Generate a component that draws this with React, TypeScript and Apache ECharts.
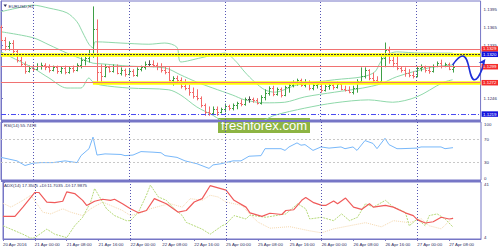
import React, { useEffect, useRef } from 'react';
import * as echarts from 'echarts';

// ---------- data ----------
// hourly bars, index 0 = 20 Apr 2016 16:00
const opens = [
  1.1366, 1.1344, 1.1334, 1.1339, 1.1326, 1.1310, 1.1304, 1.1292, 1.1297, 1.1295,
  1.1300, 1.1302, 1.1299, 1.1294, 1.1299, 1.1292, 1.1297, 1.1290, 1.1297, 1.1294,
  1.1302, 1.1310, 1.1314, 1.1321, 1.1363, 1.1290, 1.1283, 1.1299, 1.1292, 1.1300,
  1.1288, 1.1294, 1.1287, 1.1292, 1.1285, 1.1295, 1.1299, 1.1304, 1.1304, 1.1302,
  1.1300, 1.1294, 1.1290, 1.1277, 1.1280, 1.1277, 1.1266, 1.1263, 1.1256, 1.1250,
  1.1246, 1.1234, 1.1223, 1.1221, 1.1228, 1.1223, 1.1228, 1.1233, 1.1229, 1.1234,
  1.1238, 1.1236, 1.1245, 1.1245, 1.1243, 1.1238, 1.1248, 1.1255, 1.1263, 1.1253,
  1.1261, 1.1251, 1.1265, 1.1268, 1.1272, 1.1277, 1.1268, 1.1273, 1.1263, 1.1268,
  1.1270, 1.1260, 1.1266, 1.1268, 1.1265, 1.1270, 1.1261, 1.1260, 1.1256, 1.1263,
  1.1275, 1.1283, 1.1294, 1.1280, 1.1277, 1.1275, 1.1314, 1.1327, 1.1310, 1.1305,
  1.1297, 1.1294, 1.1288, 1.1285, 1.1283, 1.1297, 1.1299, 1.1294, 1.1292, 1.1300,
  1.1305, 1.1300, 1.1304, 1.1295,
];
const highs = [
  1.1368, 1.1348, 1.1341, 1.1343, 1.1327, 1.1315, 1.1307, 1.1300, 1.1302, 1.1304,
  1.1305, 1.1304, 1.1302, 1.1300, 1.1300, 1.1299, 1.1300, 1.1299, 1.1300, 1.1304,
  1.1314, 1.1315, 1.1327, 1.1400, 1.1378, 1.1302, 1.1302, 1.1300, 1.1302, 1.1302,
  1.1297, 1.1295, 1.1294, 1.1294, 1.1297, 1.1300, 1.1307, 1.1309, 1.1309, 1.1305,
  1.1304, 1.1299, 1.1297, 1.1282, 1.1283, 1.1280, 1.1277, 1.1268, 1.1263, 1.1260,
  1.1248, 1.1236, 1.1231, 1.1231, 1.1231, 1.1229, 1.1236, 1.1234, 1.1236, 1.1239,
  1.1243, 1.1246, 1.1248, 1.1246, 1.1245, 1.1250, 1.1260, 1.1265, 1.1266, 1.1263,
  1.1263, 1.1266, 1.1270, 1.1275, 1.1278, 1.1278, 1.1277, 1.1275, 1.1270, 1.1272,
  1.1272, 1.1268, 1.1272, 1.1272, 1.1273, 1.1272, 1.1266, 1.1265, 1.1266, 1.1277,
  1.1297, 1.1297, 1.1294, 1.1288, 1.1282, 1.1319, 1.1339, 1.1332, 1.1315, 1.1319,
  1.1299, 1.1297, 1.1294, 1.1290, 1.1299, 1.1302, 1.1300, 1.1299, 1.1302, 1.1307,
  1.1310, 1.1305, 1.1305, 1.1302,
];
const lows = [
  1.1343, 1.1327, 1.1327, 1.1322, 1.1307, 1.1300, 1.1288, 1.1290, 1.1292, 1.1294,
  1.1295, 1.1294, 1.1290, 1.1292, 1.1288, 1.1288, 1.1287, 1.1288, 1.1290, 1.1292,
  1.1297, 1.1302, 1.1307, 1.1315, 1.1273, 1.1270, 1.1282, 1.1290, 1.1290, 1.1287,
  1.1285, 1.1283, 1.1285, 1.1283, 1.1283, 1.1292, 1.1295, 1.1300, 1.1299, 1.1294,
  1.1290, 1.1287, 1.1275, 1.1268, 1.1272, 1.1263, 1.1260, 1.1251, 1.1246, 1.1243,
  1.1231, 1.1217, 1.1217, 1.1219, 1.1217, 1.1221, 1.1223, 1.1226, 1.1226, 1.1228,
  1.1233, 1.1234, 1.1239, 1.1239, 1.1236, 1.1236, 1.1243, 1.1251, 1.1250, 1.1251,
  1.1248, 1.1250, 1.1256, 1.1265, 1.1268, 1.1266, 1.1265, 1.1260, 1.1260, 1.1263,
  1.1256, 1.1258, 1.1261, 1.1261, 1.1263, 1.1260, 1.1258, 1.1255, 1.1253, 1.1256,
  1.1273, 1.1280, 1.1277, 1.1273, 1.1272, 1.1272, 1.1299, 1.1305, 1.1299, 1.1294,
  1.1290, 1.1283, 1.1282, 1.1280, 1.1282, 1.1292, 1.1290, 1.1288, 1.1290, 1.1299,
  1.1297, 1.1299, 1.1294, 1.1290,
];
const closes = [
  1.1344, 1.1334, 1.1339, 1.1326, 1.1310, 1.1304, 1.1292, 1.1297, 1.1295, 1.1300,
  1.1302, 1.1299, 1.1294, 1.1299, 1.1292, 1.1297, 1.1290, 1.1297, 1.1294, 1.1302,
  1.1310, 1.1314, 1.1321, 1.1363, 1.1290, 1.1283, 1.1299, 1.1292, 1.1300, 1.1288,
  1.1294, 1.1287, 1.1292, 1.1285, 1.1295, 1.1299, 1.1304, 1.1304, 1.1302, 1.1300,
  1.1294, 1.1290, 1.1277, 1.1280, 1.1277, 1.1266, 1.1263, 1.1256, 1.1250, 1.1246,
  1.1234, 1.1223, 1.1221, 1.1228, 1.1223, 1.1228, 1.1233, 1.1229, 1.1234, 1.1238,
  1.1236, 1.1245, 1.1245, 1.1243, 1.1238, 1.1248, 1.1255, 1.1263, 1.1253, 1.1261,
  1.1251, 1.1265, 1.1268, 1.1272, 1.1277, 1.1268, 1.1273, 1.1263, 1.1268, 1.1270,
  1.1260, 1.1266, 1.1268, 1.1265, 1.1270, 1.1261, 1.1260, 1.1256, 1.1263, 1.1275,
  1.1283, 1.1294, 1.1280, 1.1277, 1.1275, 1.1314, 1.1327, 1.1310, 1.1305, 1.1297,
  1.1294, 1.1288, 1.1285, 1.1283, 1.1297, 1.1299, 1.1294, 1.1292, 1.1300, 1.1305,
  1.1300, 1.1304, 1.1295, 1.1299,
];

// Bollinger-type bands, [bar index, price]
const bandUpper = [
  [0, 1.1392], [4, 1.1398], [8, 1.1403], [12, 1.1398], [16.5, 1.1390], [19, 1.1375],
  [20.5, 1.1356], [22, 1.1337], [23, 1.1331], [23.5, 1.1341], [24, 1.1341], [30, 1.1339],
  [37, 1.1337], [41, 1.1339], [44, 1.1332], [45, 1.1307], [50, 1.1314], [56, 1.1322],
  [58.5, 1.1310], [61, 1.1290], [63.5, 1.1273], [66, 1.1260], [68.5, 1.1256], [74, 1.1268],
  [83.5, 1.1277], [90.5, 1.1282], [93.5, 1.1290], [95, 1.1307], [96.5, 1.1319], [99, 1.1324],
  [105, 1.1322], [110.5, 1.1322], [113, 1.1322],
];
const bandMiddle = [
  [0, 1.1358], [8, 1.1348], [12, 1.1336], [16.5, 1.1322], [21, 1.1310], [23, 1.1305],
  [25, 1.1304], [32, 1.1300], [41, 1.1297], [45, 1.1285], [49, 1.1273], [53, 1.1263],
  [58, 1.1251], [61, 1.1243], [66, 1.1238], [71, 1.1239], [76, 1.1248], [83.5, 1.1256],
  [90.5, 1.1263], [95, 1.1270], [99, 1.1282], [107, 1.1297], [113, 1.1302],
];
const bandLower = [
  [0, 1.1324], [5, 1.1307], [8, 1.1297], [12, 1.1280], [16.5, 1.1263], [20, 1.1263],
  [22, 1.1280], [23, 1.1273], [25, 1.1268], [32, 1.1263], [42, 1.1260], [45, 1.1251],
  [49, 1.1231], [53, 1.1217], [57, 1.1201], [62, 1.1195], [66, 1.1209], [68.5, 1.1217],
  [76, 1.1229], [83.5, 1.1238], [92, 1.1243], [98, 1.1239], [104, 1.1248], [110.5, 1.1272],
  [113, 1.1277],
];

// hand-drawn forecast
const forecast = [[113, 1.1302], [115.5, 1.1317], [118.5, 1.1277], [121.2, 1.1312]];

// levels
const resistance = [1.1329, 1.1299];
const zoneHigh = 1.1320;
const zoneLow = 1.1272;
const zoneLowStart = 23;
const support = 1.1219;

// RSI(14), [bar index, value]
const rsi = [
  [0, 39], [2, 36], [4, 33], [6, 25], [8, 29], [10, 30], [13, 30], [16, 33], [19, 30],
  [20, 42], [22, 54], [23, 74], [24, 43], [26, 45], [30, 44], [31, 42], [33, 43], [35, 49],
  [38, 48], [40, 47], [41, 42], [44, 39], [46, 33], [49, 28], [52, 20], [53, 26], [55, 28],
  [58, 33], [60, 33], [62, 41], [65, 42], [66, 54], [70, 54], [71, 51], [72, 57], [74, 64],
  [75, 60], [76, 61], [78, 51], [80, 57], [82, 55], [85, 57], [86, 54], [88, 57], [89, 51],
  [91, 68], [93, 63], [94, 54], [96, 72], [97, 61], [99, 54], [100, 54], [104, 55], [105, 57],
  [108, 57], [110, 57], [111, 54], [113, 55.75],
];
// ADX(14)
const adx = [
  [0, 18.7], [3, 18.7], [5, 24.7], [8, 34.2], [9, 34.2], [11, 28], [13, 27.6], [15, 28.5],
  [16, 34.6], [18, 33.5], [20, 29.1], [21, 25.8], [23, 28.5], [25, 29.8], [27, 29.1], [28, 29.8],
  [30, 26.9], [32, 23.6], [34, 21], [36, 22.5], [38, 30.2], [41, 26.9], [44, 21.4], [46, 22.5],
  [48, 28], [50, 30.2], [52, 38.6], [54, 37.2], [56, 35.7], [58, 29.1], [61, 24.7], [62, 21],
  [65, 18.7], [67, 20.7], [70, 19.9], [71, 22.5], [73, 23], [75, 29.1], [76, 30.9], [78, 27.6],
  [80, 25.8], [81, 25.8], [83, 28.7], [84, 26.9], [86, 30.6], [88, 24.7], [90, 23.2], [92, 26.9],
  [93, 24.7], [96, 25.8], [98, 24.7], [101, 21], [103, 19.2], [104, 16.6], [106, 14.4],
  [108, 15.2], [110, 18.1], [112, 17], [113, 17.35],
];
const plusDI = [
  [0, 12.6], [2, 10.4], [5, 7.1], [7, 4.5], [8, 4.9], [11, 10.4], [13, 7.1], [16, 4.9],
  [18, 12.6], [20, 18.1], [22, 28], [23, 36.8], [25, 28], [26, 23.6], [28, 19.2], [31, 15.9],
  [32, 15.9], [34, 21.4], [36, 32.4], [37, 39], [39, 31.3], [41, 29.1], [43, 23.6], [45, 19.2],
  [46, 14.8], [50, 10.4], [52, 7.1], [55, 12.6], [56, 13.7], [58, 19.2], [61, 17], [62, 19.5],
  [66, 18.1], [71, 20.3], [74, 26.9], [76, 23.6], [77, 17], [80, 18.1], [83, 15.9], [85, 20.3],
  [87, 15.9], [89, 18.1], [91, 26.9], [93, 24.7], [96, 29.1], [98, 24.7], [101, 21.4],
  [102, 12.6], [104, 17], [106, 12.6], [107, 19.2], [109, 20.3], [111, 17], [113, 11.7],
];
const minusDI = [
  [0, 27.1], [2, 24.7], [5, 29.1], [7, 32.4], [10, 21.4], [12, 20.3], [15, 23.6], [17, 21.4],
  [20, 19.2], [22, 23.6], [25, 28], [27, 25.8], [30, 22.5], [32, 19.2], [35, 21.4], [37, 23.6],
  [40, 25.8], [42, 26.9], [45, 24.7], [47, 30.2], [50, 29.1], [52, 32.4], [54, 31.3], [56, 28],
  [60, 25.8], [62, 20], [64, 15], [67, 11], [72, 12], [77, 9.3], [80, 8], [83, 10.6], [87, 12.6],
  [91, 14.6], [95, 11.9], [98, 15.9], [102, 14.6], [105, 17.2], [107, 12.6], [110, 10.6],
  [113, 18],
];

const tickIdx = [0, 8, 16, 24, 32, 40, 48, 56, 64, 72, 80, 88, 96, 104, 112];
const tickLabels = [
  '20 Apr 2016', '21 Apr 00:00', '21 Apr 08:00', '21 Apr 16:00', '22 Apr 00:00',
  '22 Apr 08:00', '22 Apr 16:00', '25 Apr 00:00', '25 Apr 08:00', '25 Apr 16:00',
  '26 Apr 00:00', '26 Apr 08:00', '26 Apr 16:00', '27 Apr 00:00', '27 Apr 08:00',
];
const daySeps = [8, 32, 56, 80, 104];
const priceTicks = [1.1246, 1.1335, 1.1365, 1.1395];

// ---------- styles ----------
const FRAME = '#7676c6';
const TXT = '#2c2c60';
const FONT = 'Liberation Sans, Arial, sans-serif';
const UP = '#3f9f46';
const DOWN = '#f26a6a';
const DOJI = '#505050';
const BAND = '#8fd8aa';
const RED = '#f07272';
const SMALL = 4.4;
const XMAX = 120;

export default function App() {
  const ref = useRef<HTMLDivElement>(null);
  useEffect(() => {
    document.body.style.margin = '0';
    const chart = echarts.init(ref.current!, null, { renderer: 'svg' });
    const bars = opens.map((o, i) => [i, o, highs[i], lows[i], closes[i]]);

    const dayLines = {
      silent: true,
      symbol: 'none',
      label: { show: false },
      lineStyle: { color: '#5656b4', type: [1, 2], width: 1 },
      data: daySeps.map((d) => ({ xAxis: d })),
    };

    const boxLabel = (text: string, bg: string) => ({
      show: true,
      position: 'end',
      distance: 1,
      formatter: text,
      color: '#ffffff',
      backgroundColor: bg,
      fontSize: SMALL,
      fontFamily: FONT,
      padding: [1, 1.5, 0.5, 1.5],
    });
    const hline = (v: number, start: number, lineStyle: any, label?: any) => [
      { coord: [start, v], lineStyle, label: label ?? { show: false } },
      { coord: [XMAX, v] },
    ];
    const priceLevelSeries = (data: any[], z: number) => ({
      type: 'line', xAxisIndex: 0, yAxisIndex: 0, data: [], z,
      markLine: { silent: true, symbol: 'none', label: { show: false }, data },
    });

    const option: any = {
      animation: false,
      backgroundColor: '#ffffff',
      textStyle: { fontFamily: FONT },
      grid: [
        { left: 1, right: 19, top: 1, height: 119, show: true, borderColor: FRAME, borderWidth: 1 },
        { left: 1, right: 19, top: 122, height: 58, show: true, borderColor: FRAME, borderWidth: 1 },
        { left: 1, right: 19, top: 182, height: 57, show: true, borderColor: FRAME, borderWidth: 1 },
      ],
      xAxis: [
        { type: 'value', gridIndex: 0, min: 0, max: XMAX, show: false },
        { type: 'value', gridIndex: 1, min: 0, max: XMAX, show: false },
        {
          type: 'value', gridIndex: 2, min: 0, max: XMAX,
          axisLine: { show: true, lineStyle: { color: FRAME, width: 1 } },
          axisTick: { show: true, customValues: tickIdx, length: 2, lineStyle: { color: FRAME } },
          axisLabel: {
            customValues: tickIdx,
            formatter: (v: number) => tickLabels[tickIdx.indexOf(v)] ?? '',
            align: 'left', fontSize: SMALL, color: TXT, margin: 3,
          },
          splitLine: { show: false },
        },
      ],
      yAxis: [
        {
          type: 'value', gridIndex: 0, position: 'right', min: 1.1209, max: 1.141,
          axisLine: { show: true, lineStyle: { color: FRAME } },
          axisTick: { show: true, customValues: priceTicks, length: 2, lineStyle: { color: FRAME } },
          axisLabel: { customValues: priceTicks, formatter: (v: number) => v.toFixed(4), fontSize: SMALL, color: TXT, margin: 3 },
          splitLine: { show: false },
        },
        {
          type: 'value', gridIndex: 1, position: 'right', min: 0, max: 100,
          axisLine: { show: true, lineStyle: { color: FRAME } },
          axisTick: { show: true, customValues: [0, 30, 70, 100], length: 2, lineStyle: { color: FRAME } },
          axisLabel: {
            customValues: [0, 30, 70, 100], fontSize: SMALL, color: TXT, margin: 3,
            verticalAlignMinLabel: 'bottom', verticalAlignMaxLabel: 'top',
          },
          splitLine: { show: false },
        },
        {
          type: 'value', gridIndex: 2, position: 'right', min: 4, max: 41,
          axisLine: { show: true, lineStyle: { color: FRAME } },
          axisTick: { show: true, customValues: [4, 41], length: 2, lineStyle: { color: FRAME } },
          axisLabel: {
            customValues: [4, 41], fontSize: SMALL, color: TXT, margin: 3,
            verticalAlignMinLabel: 'bottom', verticalAlignMaxLabel: 'top',
          },
          splitLine: { show: false },
        },
      ],
      series: [
        {
          type: 'line', xAxisIndex: 0, yAxisIndex: 0, data: [], z: 1,
          markLine: dayLines,
        },
        priceLevelSeries([
          hline(zoneHigh, 0, { color: '#ffff00', width: 3.5, type: 'solid' }),
          hline(zoneLow, zoneLowStart, { color: '#ffff00', width: 3.5, type: 'solid' }),
        ], 1),
        priceLevelSeries([
          hline(resistance[0], 0, { color: RED, width: 1, type: 'solid' }, boxLabel(resistance[0].toFixed(4), '#f42c2c')),
          hline(resistance[1], 0, { color: RED, width: 1, type: 'solid' }, boxLabel(resistance[1].toFixed(4), '#f42c2c')),
          hline(zoneLow, 0, { color: RED, width: 1, type: 'solid' }, boxLabel(zoneLow.toFixed(4), '#f42c2c')),
          hline(zoneHigh, 0, { color: '#3a3a3a', width: 1, type: [2, 1] }, boxLabel(zoneHigh.toFixed(4), '#1414dc')),
          hline(support, 0, { color: '#4a4af2', width: 1, type: [5, 2, 1, 2] }, boxLabel(support.toFixed(4), '#1414dc')),
        ], 2),
        ...[bandUpper, bandMiddle, bandLower].map((b) => ({
          type: 'line', xAxisIndex: 0, yAxisIndex: 0, data: b, smooth: 0.3, showSymbol: false, z: 3,
          lineStyle: { color: BAND, width: 1 },
        })),
        {
          type: 'custom', xAxisIndex: 0, yAxisIndex: 0, z: 4,
          encode: { x: 0, y: [1, 2, 3, 4] },
          data: bars,
          renderItem: (_p: any, api: any) => {
            const i = api.value(0);
            const o = api.value(1), h = api.value(2), l = api.value(3), c = api.value(4);
            const ph = api.coord([i, h]);
            const pl = api.coord([i, l]);
            const po = api.coord([i, o]);
            const pc = api.coord([i, c]);
            const x = Math.round(ph[0]) + 0.5;
            const color = c > o ? UP : c < o ? DOWN : DOJI;
            const st = { stroke: color, lineWidth: 1 };
            const yo = Math.round(po[1]) + 0.5;
            const yc = Math.round(pc[1]) + 0.5;
            return {
              type: 'group',
              children: [
                { type: 'line', shape: { x1: x, y1: ph[1] - 0.5, x2: x, y2: pl[1] + 0.5 }, style: st },
                { type: 'line', shape: { x1: x - 1.5, y1: yo, x2: x, y2: yo }, style: st },
                { type: 'line', shape: { x1: x, y1: yc, x2: x + 1.5, y2: yc }, style: st },
              ],
            };
          },
        },
        {
          type: 'line', xAxisIndex: 0, yAxisIndex: 0, z: 6, clip: false, smooth: 0.5,
          data: forecast.map((p, i) =>
            i === forecast.length - 1
              ? { value: p, symbol: 'arrow', symbolSize: [5, 7], symbolRotate: -35, itemStyle: { color: '#1f2fd8' } }
              : { value: p, symbol: 'none' }),
          showSymbol: true,
          lineStyle: { color: '#1f2fd8', width: 1.6 },
        },
        {
          type: 'line', xAxisIndex: 1, yAxisIndex: 1, data: rsi, showSymbol: false, z: 3,
          lineStyle: { color: '#78b8fa', width: 1 },
          markLine: {
            silent: true, symbol: 'none', label: { show: false },
            data: [
              ...daySeps.map((d) => ({ xAxis: d, lineStyle: { color: '#5656b4', type: [1, 2], width: 1 } })),
              { yAxis: 70, lineStyle: { color: '#c8c8c8', type: [2, 2], width: 1 } },
              { yAxis: 30, lineStyle: { color: '#c8c8c8', type: [2, 2], width: 1 } },
            ],
          },
        },
        {
          type: 'line', xAxisIndex: 2, yAxisIndex: 2, data: minusDI, showSymbol: false, z: 2,
          lineStyle: { color: '#f6d9b0', width: 1, type: [1, 1] },
          markLine: dayLines,
        },
        {
          type: 'line', xAxisIndex: 2, yAxisIndex: 2, data: plusDI, showSymbol: false, z: 3,
          lineStyle: { color: '#b6d97a', width: 1, type: [2, 1] },
        },
        {
          type: 'line', xAxisIndex: 2, yAxisIndex: 2, data: adx, showSymbol: false, z: 4,
          lineStyle: { color: '#f05a5a', width: 1.2 },
        },
      ],
      graphic: [
        { type: 'rect', shape: { x: 1, y: 120, width: 480, height: 2 }, style: { fill: FRAME }, z: 50 },
        { type: 'rect', shape: { x: 1, y: 180, width: 480, height: 2 }, style: { fill: FRAME }, z: 50 },
        { type: 'polygon', shape: { points: [[3.5, 4.5], [7, 4.5], [5.25, 7]] }, style: { fill: TXT }, z: 50 },
        { type: 'text', x: 8.5, y: 6, style: { text: 'EURUSD,H1', fill: TXT, font: `${SMALL}px ${FONT}`, textVerticalAlign: 'middle' }, z: 50 },
        { type: 'text', x: 4, y: 125.5, style: { text: 'RSI(14) 55.7478', fill: TXT, font: `${SMALL}px ${FONT}`, textVerticalAlign: 'middle' }, z: 50 },
        { type: 'text', x: 4, y: 185.5, style: { text: 'ADX(14) 17.3505 +DI:11.7035 -DI:17.9875', fill: TXT, font: `${SMALL}px ${FONT}`, textVerticalAlign: 'middle' }, z: 50 },
        {
          type: 'group', z: 60,
          children: [
            { type: 'rect', shape: { x: 218, y: 118, width: 92, height: 15 }, style: { fill: '#8db443' } },
            { type: 'text', x: 264, y: 125.5, style: { text: 'freshforex.com', fill: '#ffffff', font: `13px ${FONT}`, textAlign: 'center', textVerticalAlign: 'middle' } },
          ],
        },
      ],
    };
    chart.setOption(option);
    return () => chart.dispose();
  }, []);
  return <div ref={ref} style={{ width: 500, height: 250 }} />;
}
